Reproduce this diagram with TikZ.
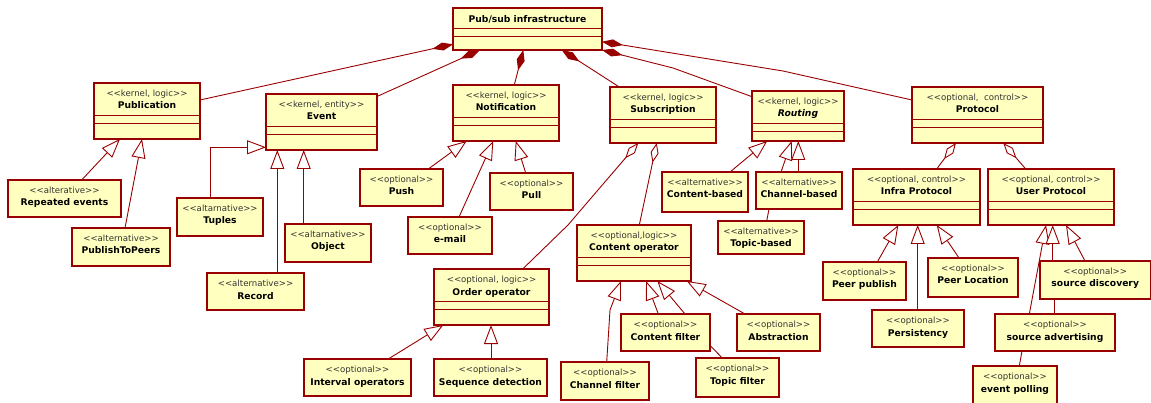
\documentclass[tikz,border=0pt]{standalone}
\usepackage{fontspec}
\setmainfont{DejaVu Sans}[Ligatures=TeXOff]
\usetikzlibrary{arrows.meta}

\definecolor{umlfill}{HTML}{FFFFC0}
\definecolor{umlline}{HTML}{990000}
\definecolor{stereogray}{HTML}{333333}

\tikzset{
  classbox/.style={draw=umlline, fill=umlfill, line width=1.1pt, inner sep=0pt, outer sep=0pt},
  stereo/.style={inner sep=0pt, font=\fontsize{8.6}{10}\selectfont, text=stereogray},
  ctitle/.style={inner sep=0pt, font=\fontsize{9.2}{11}\selectfont\bfseries},
  divider/.style={draw=umlline, line width=1pt},
  link/.style={draw=umlline, line width=0.9pt},
  gen/.style={link, -{Triangle[length=19pt,width=14pt,fill=white,line width=0.9pt]}},
  comp/.style={link, {Diamond[length=21pt,width=8pt,fill=umlline,line width=0.9pt]}-},
  aggr/.style={link, {Diamond[length=20pt,width=8pt,fill=white,line width=0.9pt]}-},
}

% class with stereotype and name only
\newcommand\plainclass[7]{%
  \node[classbox, anchor=north west, minimum width=#4pt, minimum height=#5pt] (#1) at (#2,#3) {};
  \node[stereo, anchor=base] (#1-st) at ([yshift=-13.5pt]#1.north) {<<#6>>};
  \node[ctitle, anchor=base] (#1-nm) at ([yshift=-26pt]#1.north) {#7};%
}
% class with empty attribute and operation compartments
\newcommand\fullclass[7]{%
  \plainclass{#1}{#2}{#3}{#4}{#5}{#6}{#7}%
  \draw[divider] ([yshift=-32.7pt]#1.north west) -- ([yshift=-32.7pt,xshift=1pt]#1.north east);
  \draw[divider] ([yshift=-41pt]#1.north west) -- ([yshift=-41pt,xshift=1pt]#1.north east);%
}

\begin{document}
\begin{tikzpicture}[x=1pt, y=-1pt]
\path[use as bounding box, fill=white] (0,0) rectangle (1151,403);
\clip (0,0) rectangle (1151,403);

% root
\node[classbox, anchor=north west, minimum width=149pt, minimum height=42pt] (pubsub) at (453,8) {};
\node[ctitle, anchor=base] (pubsub-nm) at ([yshift=-14.7pt]pubsub.north) {Pub/sub infrastructure};
\draw[divider] ([yshift=-21pt]pubsub.north west) -- ([yshift=-21pt,xshift=1pt]pubsub.north east);
\draw[divider] ([yshift=-29pt]pubsub.north west) -- ([yshift=-29pt,xshift=1pt]pubsub.north east);

% first level
\fullclass{publication}{94}{83}{106}{56}{kernel, logic}{Publication}
\fullclass{event}{266}{94}{111}{56}{kernel, entity}{Event}
\fullclass{notification}{453}{85}{106}{56}{kernel, logic}{Notification}
\fullclass{subscription}{610}{87}{106}{56}{kernel, logic}{Subscription}
\fullclass{routing}{752}{91}{92}{50}{kernel, logic}{\itshape Routing}
\fullclass{protocol}{912}{87}{131}{56}{optional,~ control}{Protocol}

% second level classes
\fullclass{infra}{853}{169}{127}{56}{optional, control}{Infra Protocol}
\fullclass{user}{988}{169}{126}{56}{optional, control}{User Protocol}
\fullclass{contentop}{577}{225}{114}{56}{optional,logic}{Content operator}
\fullclass{orderop}{434}{269}{115}{56}{optional, logic}{Order operator}

% leaves
\plainclass{repeated}{8}{180}{113}{37}{alterative}{Repeated events}
\plainclass{topeers}{72}{228}{98}{38}{alternative}{PublishToPeers}
\plainclass{tuples}{177}{198}{86}{38}{altarnative}{Tuples}
\plainclass{object}{285}{224}{86}{38}{altarnative}{Object}
\plainclass{record}{207}{273}{97}{37}{alternative}{Record}
\plainclass{interval}{304}{359}{107}{37}{optional}{Interval operators}
\plainclass{push}{360}{169}{83}{37}{optional}{Push}
\plainclass{pull}{490}{173}{83}{37}{optional}{Pull}
\plainclass{email}{408}{217}{84}{37}{optional}{e-mail}
\plainclass{contentbased}{662}{172}{86}{40}{alternative}{Content-based}
\plainclass{channelbased}{756}{172}{86}{37}{alternative}{Channel-based}
\plainclass{topicbased}{718}{221}{86}{33}{alternative}{Topic-based}
\plainclass{seqdet}{434}{359}{113}{37}{optional}{Sequence detection}
\plainclass{contentfilter}{621}{314}{89}{37}{optional}{Content filter}
\plainclass{abstraction}{737}{314}{83}{37}{optional}{Abstraction}
\plainclass{channelfilter}{561}{362}{88}{38}{optional}{Channel filter}
\plainclass{topicfilter}{696}{358}{83}{39}{optional}{Topic filter}
\plainclass{peerpublish}{823}{262}{83}{38}{optional}{Peer publish}
\plainclass{peerlocation}{928}{258}{90}{39}{optional}{Peer Location}
\plainclass{persistency}{872}{310}{92}{37}{optional}{Persistency}
\plainclass{srcdisc}{1040}{261}{110.5}{38}{optional}{source discovery}
\plainclass{srcadv}{995}{314}{120}{37}{optional}{source advertising}
\plainclass{evpoll}{973}{366}{84}{44}{optional}{event polling}

% bend points
\coordinate (bendR) at (673,68);
\coordinate (bendP) at (783,71);
\coordinate (bendO) at (568,225);
\coordinate (bendC) at (610,310);

% composition
\draw[comp] ([yshift=-36.3pt]pubsub.north west) -- ([yshift=-17pt]publication.north east);
\draw[comp] ([xshift=27pt]pubsub.south west) -- ([yshift=-2.5pt]event.north east);
\draw[comp] ([xshift=70.3pt]pubsub.south west) -- ([xshift=61.3pt]notification.north west);
\draw[comp] ([xshift=108.7pt]pubsub.south west) -- ([xshift=9.3pt]subscription.north west);
\draw[comp] (pubsub.south east) -- (bendR) -- ([yshift=-5.7pt]routing.north west);
\draw[comp] ([yshift=-33.7pt]pubsub.north east) -- (bendP) -- ([yshift=-13pt]protocol.north west);

% aggregation
\draw[aggr] ([xshift=28.3pt]subscription.south west) -- (bendO) -- ([xshift=88.7pt]orderop.north west);
\draw[aggr] ([xshift=46.7pt]subscription.south west) -- ([xshift=62.3pt]contentop.north west);
\draw[aggr] ([xshift=44pt]protocol.south west) -- ([xshift=83.7pt]infra.north west);
\draw[aggr] ([xshift=91.3pt]protocol.south west) -- ([xshift=37.7pt]user.north west);

% generalization
\draw[gen] ([xshift=73.7pt]repeated.north west) -- ([xshift=26pt]publication.south west);
\draw[gen] ([xshift=53pt]topeers.north west) -- ([xshift=48pt]publication.south west);
\draw[gen] ([xshift=33.3pt]tuples.north west) |- ([yshift=-53.3pt]event.north west);
\draw[gen] ([xshift=70.3pt]record.north west) -- ([xshift=11.3pt]event.south west);
\draw[gen] ([xshift=18.7pt]object.north west) -- ([xshift=37.7pt]event.south west);
\draw[gen] ([xshift=68.3pt]push.north west) -- ([xshift=13.7pt]notification.south west);
\draw[gen] ([xshift=51pt]email.north west) -- ([xshift=40.3pt]notification.south west);
\draw[gen] ([xshift=35.7pt]pull.north west) -- ([xshift=62.7pt]notification.south west);
\draw[gen] ([xshift=68pt]contentbased.north west) -- ([xshift=15.3pt]routing.south west);
\draw[gen] ([xshift=25pt]channelbased.north west) -- ([xshift=39.7pt]routing.south west);
\draw[gen] ([xshift=42.3pt]channelbased.north west) -- ([xshift=46.3pt]routing.south west);
\draw[link] ([xshift=48.7pt]topicbased.north west) -- ([xshift=13pt]channelbased.south west);
\draw[gen] ([xshift=84.3pt]interval.north west) -- ([xshift=9.3pt]orderop.south west);
\draw[gen] ([xshift=57pt]seqdet.north west) -- ([xshift=57pt]orderop.south west);
\draw[gen] ([xshift=45.7pt]channelfilter.north west) -- (bendC) -- ([xshift=44pt]contentop.south west);
\draw[gen] ([xshift=37.3pt]contentfilter.north west) -- ([xshift=69pt]contentop.south west);
\draw[gen] ([xshift=64pt]contentfilter.north west) -- ([xshift=80.3pt]contentop.south west);
\draw[link] ([xshift=26.3pt]topicfilter.north west) -- ([yshift=-31.5pt]contentfilter.north east);
\draw[gen] ([xshift=8pt]abstraction.north west) -- ([xshift=109.7pt]contentop.south west);
\draw[gen] ([xshift=54.3pt]peerpublish.north west) -- ([xshift=45.3pt]infra.south west);
\draw[gen] ([xshift=45.7pt]persistency.north west) -- ([xshift=64.7pt]infra.south west);
\draw[gen] ([xshift=31pt]peerlocation.north west) -- ([xshift=83.7pt]infra.south west);
\draw[gen] ([xshift=34.3pt]srcadv.north west) -- ([xshift=58pt]user.south west);
\draw[gen] ([xshift=12.7pt]srcdisc.north west) -- ([xshift=64.7pt]user.south west);
\draw[gen] ([xshift=45pt]srcdisc.north west) -- ([xshift=78pt]user.south west);
\draw[link] ([xshift=14.3pt]srcdisc.south west) -- ([xshift=59.3pt]srcadv.north west);
\draw[link] ([xshift=46.3pt]evpoll.north west) -- ([xshift=27pt]srcadv.south west);
\end{tikzpicture}
\end{document}
